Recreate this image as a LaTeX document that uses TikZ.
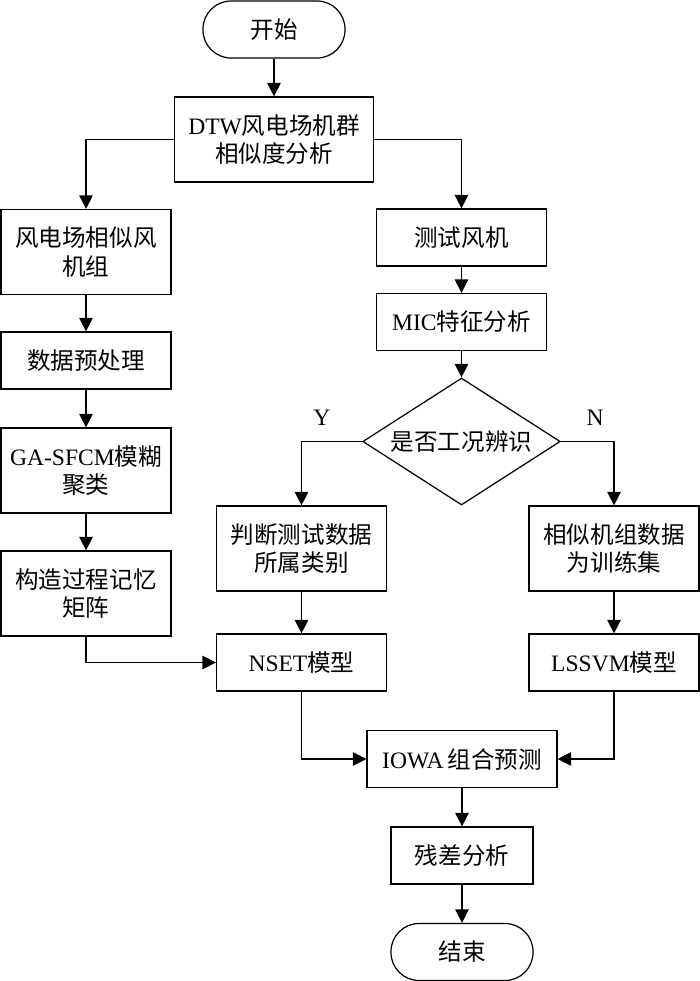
\documentclass[tikz,border=0pt]{standalone}
\usepackage{fontspec}
\setmainfont{Liberation Serif}
\newfontfamily\cjk{Noto Sans CJK SC}
\newcommand\entxt[1]{{\rmfamily #1}}
\usetikzlibrary{arrows.meta,shapes.geometric}
\begin{document}
\begin{tikzpicture}[line join=miter, >={Triangle[length=0.27cm,width=0.27cm]}, line width=0.7pt,
	every node/.style={font=\cjk\fontsize{13.4}{16.2}\selectfont, align=center, inner sep=0pt},
	box/.style={draw, minimum width=3.4cm, minimum height=1.14cm},
	bigbox/.style={box, minimum height=1.7cm},
	term/.style={draw, rounded corners=0.56cm, minimum width=2.84cm, minimum height=1.14cm},
	cond/.style={draw, diamond, aspect=1.55, minimum width=3.95cm, minimum height=2.54cm}]
	\useasboundingbox (0,0) rectangle (14,-19.62);
	% nodes
	\node[term] (start) at (5.48,-0.59) {开始};
	\node[bigbox, minimum width=3.98cm] (dtw) at (5.48,-2.79) {\entxt{DTW}风电场机群\\相似度分析};
	\node[bigbox] (simfarm) at (1.72,-5.04) {风电场相似风\\机组};
	\node[box] (testfan) at (9.23,-4.75) {测试风机};
	\node[box] (mic) at (9.23,-6.44) {\entxt{MIC}特征分析};
	\node[box] (prep) at (1.72,-7.21) {数据预处理};
	\node[cond] (judge) at (9.23,-8.83) {是否工况辨识};
	\node[bigbox] (gasfcm) at (1.72,-9.41) {\entxt{GA-SFCM}模糊\\聚类};
	\node[bigbox] (classify) at (6.03,-10.97) {判断测试数据\\所属类别};
	\node[bigbox] (trainset) at (12.28,-10.97) {相似机组数据\\为训练集};
	\node[bigbox] (memory) at (1.72,-11.87) {构造过程记忆\\矩阵};
	\node[box] (nset) at (6.03,-13.25) {\entxt{NSET}模型};
	\node[box] (lssvm) at (12.28,-13.25) {\entxt{LSSVM}模型};
	\node[box, minimum width=3.8cm] (iowa) at (9.24,-15.18) {\entxt{IOWA}\,组合预测};
	\node[box, minimum width=2.84cm] (resid) at (9.24,-17.11) {残差分析};
	\node[term] (finish) at (9.24,-19.04) {结束};
	\node (yes) at (6.44,-8.36) {\entxt{Y}};
	\node (no) at (11.9,-8.36) {\entxt{N}};
	% connectors
	\draw[->] (start) -- (dtw);
	\draw[->] (dtw.west) -| (simfarm);
	\draw[->] (dtw.east) -| (testfan);
	\draw[->] (testfan) -- (mic);
	\draw[->] (mic) -- (judge);
	\draw[->] (judge.west) -| (classify);
	\draw[->] (judge.east) -| (trainset);
	\draw[->] (simfarm) -- (prep);
	\draw[->] (prep) -- (gasfcm);
	\draw[->] (gasfcm) -- (memory);
	\draw[->] (memory.south) |- (nset.west);
	\draw[->] (classify) -- (nset);
	\draw[->] (trainset) -- (lssvm);
	\draw[->] (nset.south) |- (iowa.west);
	\draw[->] (lssvm.south) |- (iowa.east);
	\draw[->] (iowa) -- (resid);
	\draw[->] (resid) -- (finish);
\end{tikzpicture}
\end{document}
